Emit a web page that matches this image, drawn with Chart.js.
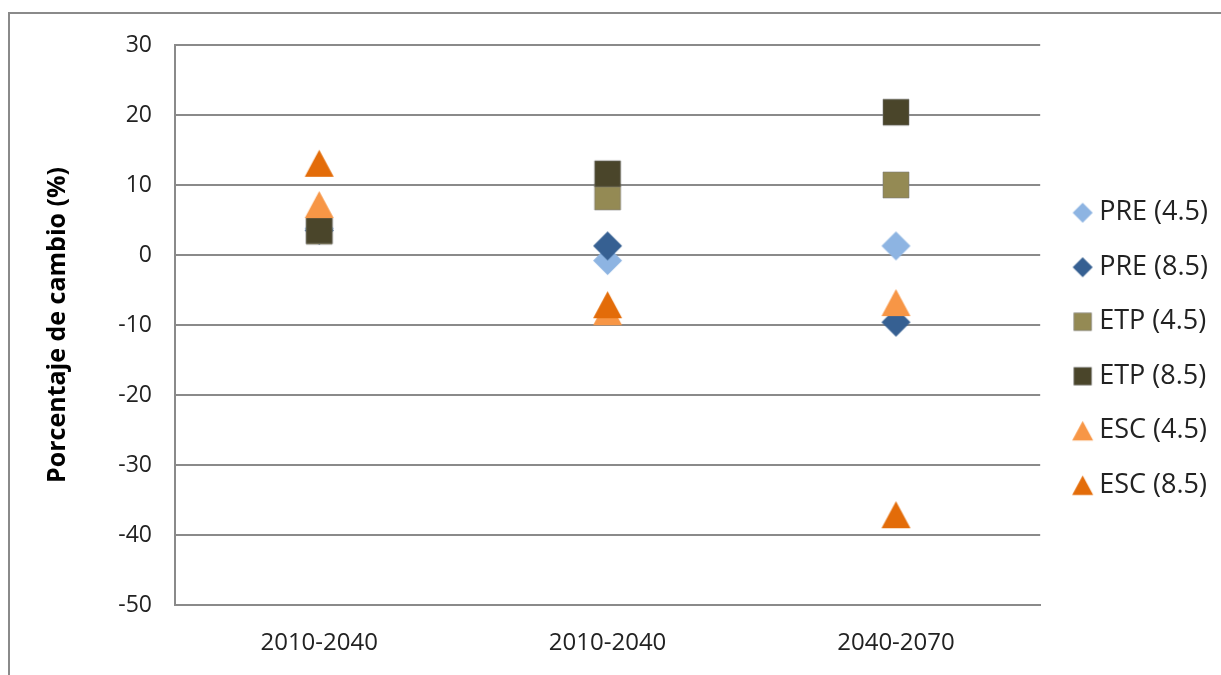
<!DOCTYPE html>
<html>
<head>
<meta charset="utf-8">
<script src="https://cdn.jsdelivr.net/npm/chart.js@4/dist/chart.umd.min.js"></script>
<style>
  html, body { margin: 0; padding: 0; background: #ffffff; }
  canvas { display: block; }
</style>
</head>
<body>
<canvas id="c" width="1221" height="675"></canvas>
<script>
// ---- data ----
const categories = ["2010-2040", "2010-2040", "2040-2070"];
const seriesNames = ["PRE (4.5)", "PRE (8.5)", "ETP (4.5)", "ETP (8.5)", "ESC (4.5)", "ESC (8.5)"];
const pre45 = [3.8, -0.8, 1.3];
const pre85 = [3.5, 1.3, -9.6];
const etp45 = [3.4, 8.3, 10.0];
const etp85 = [3.5, 11.6, 20.4];
const esc45 = [7.2, -8.1, -6.8];
const esc85 = [13.1, -7.1, -37.1];
const yTicks = [-50, -40, -30, -20, -10, 0, 10, 20, 30];
const yTitle = "Porcentaje de cambio (%)";

// ---- styles ----
const colors = ["#8DB4E2", "#366092", "#948A54", "#4A452A", "#F79646", "#E36C09"];
const shapes = ["diamond", "diamond", "square", "square", "triangle", "triangle"];

function makeMarker(shape, size, fill) {
  const c = document.createElement('canvas');
  const s = Math.ceil(size) + 2;
  c.width = s; c.height = s;
  const g = c.getContext('2d');
  const cx = s / 2, cy = s / 2, h = size / 2;
  g.fillStyle = fill;
  g.beginPath();
  if (shape === 'diamond') {
    g.moveTo(cx, cy - h); g.lineTo(cx + h, cy); g.lineTo(cx, cy + h); g.lineTo(cx - h, cy);
    g.closePath(); g.fill();
  } else if (shape === 'square') {
    const q = h * 0.93;
    g.rect(cx - q, cy - q, 2 * q, 2 * q);
    g.fill();
    g.lineWidth = 1;
    g.strokeStyle = 'rgba(120,120,120,0.55)';
    g.stroke();
  } else {
    const th = size * 0.93;
    g.moveTo(cx, cy - th / 2); g.lineTo(cx + h, cy + th / 2); g.lineTo(cx - h, cy + th / 2);
    g.closePath(); g.fill();
  }
  return c;
}

const plotMarkers = shapes.map((sh, i) => makeMarker(sh, sh === 'square' ? 28 : 29, colors[i]));
const legendMarkers = shapes.map((sh, i) => makeMarker(sh, sh === 'triangle' ? 21 : (sh === 'square' ? 19 : 20), colors[i]));

const values = [pre45, pre85, etp45, etp85, esc45, esc85];
const datasets = seriesNames.map((name, i) => ({
  label: name,
  data: values[i],
  order: seriesNames.length - 1 - i,
  showLine: false,
  pointStyle: plotMarkers[i],
  pointRadius: 14,
  pointHoverRadius: 14,
  backgroundColor: colors[i],
  borderColor: colors[i],
  clip: false
}));

const framePlugin = {
  id: 'frame',
  beforeDraw(chart) {
    const ctx = chart.ctx;
    ctx.save();
    ctx.fillStyle = '#ffffff';
    ctx.fillRect(0, 0, chart.width, chart.height);
    ctx.strokeStyle = '#8a8a8a';
    ctx.lineWidth = 2;
    ctx.beginPath();
    ctx.moveTo(1221, 13);
    ctx.lineTo(9, 13);
    ctx.lineTo(9, 675);
    ctx.stroke();
    ctx.restore();
  }
};

new Chart(document.getElementById('c'), {
  type: 'line',
  data: { labels: categories, datasets },
  plugins: [framePlugin],
  options: {
    responsive: false,
    animation: false,
    devicePixelRatio: 1,
    layout: { padding: { left: 43, top: 45, right: 3, bottom: 22 } },
    plugins: {
      tooltip: { enabled: false },
      legend: {
        position: 'right',
        align: 'center',
        labels: {
          usePointStyle: true,
          boxWidth: 6,
          padding: 27.5,
          color: '#222222',
          font: { family: 'Open Sans', size: 27 },
          generateLabels(chart) {
            return chart.data.datasets.map((ds, i) => ({
              text: ds.label,
              pointStyle: legendMarkers[i],
              fillStyle: colors[i],
              strokeStyle: colors[i],
              lineWidth: 0,
              hidden: false,
              datasetIndex: i,
              fontColor: '#222222'
            }));
          }
        }
      }
    },
    scales: {
      x: {
        type: 'category',
        offset: true,
        grid: { display: false, drawTicks: false },
        border: { display: true, color: '#8a8a8a', width: 2 },
        ticks: { color: '#222222', padding: 24, font: { family: 'Open Sans', size: 24 }, autoSkip: false, maxRotation: 0 },
        afterFit(s) { s.height = 48; }
      },
      y: {
        min: -50, max: 30,
        afterBuildTicks(s) { s.ticks = yTicks.map(v => ({ value: v })); },
        grid: { color: '#8a8a8a', lineWidth: 2, drawTicks: false },
        border: { display: true, color: '#8a8a8a', width: 2 },
        ticks: { color: '#222222', padding: 23, font: { family: 'Open Sans', size: 23 } },
        title: { display: true, text: yTitle, color: '#000000', padding: 0, font: { family: 'Open Sans', size: 25, weight: 'bold' } },
        afterFit(s) { s.width = 132; }
      },
      y2: {
        type: 'linear',
        position: 'right',
        display: true,
        grid: { display: false, drawTicks: false },
        border: { display: false },
        ticks: { display: false },
        afterFit(s) { s.width = 12; }
      }
    }
  }
});
</script>
</body>
</html>
